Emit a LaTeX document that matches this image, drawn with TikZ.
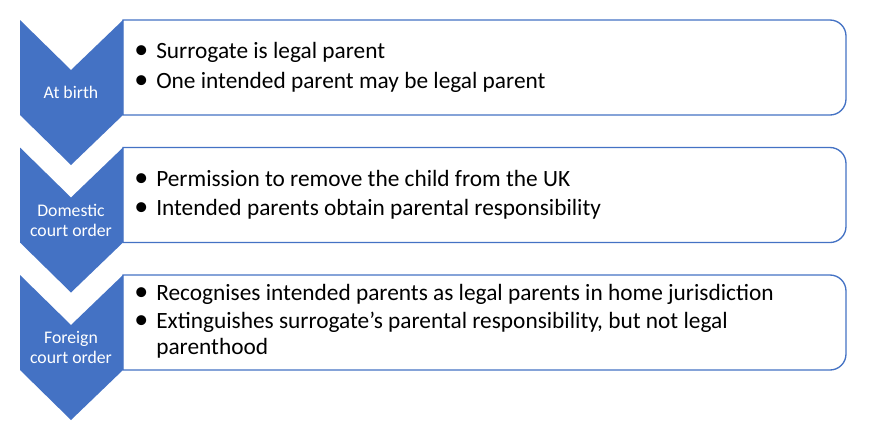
\documentclass[tikz,border=0pt]{standalone}
\usepackage{fontspec}
\setmainfont{Carlito}
\usepackage{tikz}
\usetikzlibrary{positioning}

\definecolor{officeblue}{HTML}{4472C4}
\newcommand{\bul}{\llap{\raisebox{-0.5pt}{\fontsize{21}{21}\selectfont\textbullet}\hspace{6pt}}}

\tikzset{
  chevron/.style={fill=officeblue, draw=none},
  boxline/.style={draw=officeblue, line width=1pt, fill=white},
  steplabel/.style={text=white, align=center, inner sep=0pt,
    font=\fontsize{13.3}{15}\selectfont},
  bulletitem/.style={anchor=base west, inner sep=0pt,
    font=\fontsize{17.5}{19.5}\selectfont}
}

\begin{document}
\begin{tikzpicture}[x=0.75pt, y=0.75pt]
\useasboundingbox (0,0) rectangle (869,-437);

% boxes on the right
\draw [boxline] (123,-20) -- (830,-20) arc[start angle=90, end angle=0, radius=12pt] -- (846,-99) arc[start angle=0, end angle=-90, radius=12pt] -- (123,-115) -- cycle;
\draw [boxline] (123,-147.5) -- (830,-147.5) arc[start angle=90, end angle=0, radius=12pt] -- (846,-226.5) arc[start angle=0, end angle=-90, radius=12pt] -- (123,-242.5) -- cycle;
\draw [boxline] (123,-275) -- (830,-275) arc[start angle=90, end angle=0, radius=12pt] -- (846,-354) arc[start angle=0, end angle=-90, radius=12pt] -- (123,-370) -- cycle;

% chevrons
\fill [chevron] (20,-20) -- (71,-70) -- (123,-20) -- (123,-115) -- (71,-165) -- (20,-115) -- cycle;
\fill [chevron] (20,-147.5) -- (71,-197.5) -- (123,-147.5) -- (123,-242.5) -- (71,-292.5) -- (20,-242.5) -- cycle;
\fill [chevron] (20,-275) -- (71,-325) -- (123,-275) -- (123,-370) -- (71,-420) -- (20,-370) -- cycle;

\node [steplabel] (birth) at (71,-92.5) {At birth};
\node [steplabel] (domestic) at (71,-220) {Domestic\\court order};
\node [steplabel] (foreign) at (71,-347.5) {Foreign\\court order};

% bullet texts
\node [bulletitem] (b1) at (156,-58.3) {\bul Surrogate is legal parent};
\node [bulletitem] (b2) at (156,-88.3) {\bul One intended parent may be legal parent};
\node [bulletitem] (d1) at (156,-186) {\bul Permission to remove the child from the UK};
\node [bulletitem] (d2) at (156,-215) {\bul Intended parents obtain parental responsibility};
\node [bulletitem] (f1) at (156,-300) {\bul Recognises intended parents as legal parents in home jurisdiction};
\node [bulletitem] (f2) at (156,-328.3) {\bul Extinguishes surrogate’s parental responsibility, but not legal};
\node [bulletitem] (f3) at (156,-354) {parenthood};
\end{tikzpicture}
\end{document}
